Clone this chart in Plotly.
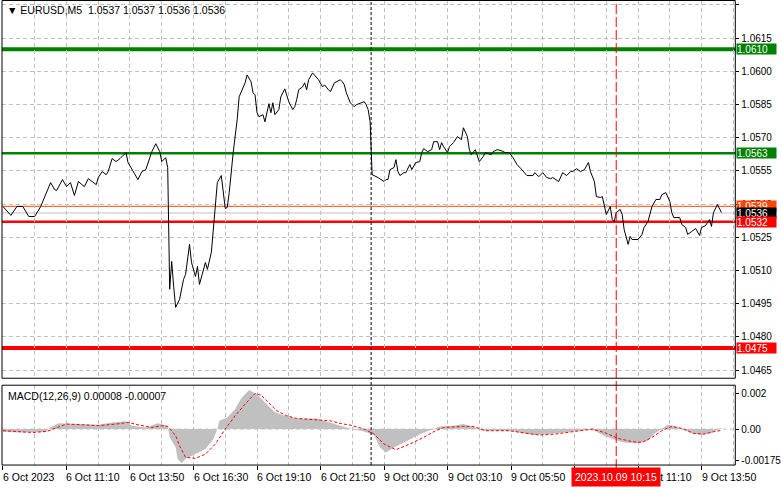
import plotly.graph_objects as go

# ---------------- data ----------------
price_bars = [0,4,7,10,13,16,19,21,22,24,26,27,30,32,34,36,38,41,43,47,48,50,52,53,55,57,59,62,63,65,68,70,72,75,77,79,80,82,83,
              84,85,86,87,89,91,92,94,95,97,98,99,102,103,105,107,108,110,111,112,113,114,116,118,119,120,122,123,125,126,127,128,129,
              131,132,134,135,136,137,139,140,142,143,144,146,147,148,149,151,152,153,154,156,157,159,161,162,164,165,167,168,170,171,
              172,173,175,177,178,182,183,184,185,
              186,187,189,192,193,194,195,197,198,199,200,202,203,205,206,208,210,211,212,214,216,217,219,220,221,222,224,225,227,229,
              231,232,234,235,236,238,240,242,243,246,247,249,251,253,255,257,259,261,264,267,268,270,272,274,276,277,280,282,284,286,
              287,289,291,293,295,296,298,299,301,302,303,304,306,307,308,309,311,312,313,315,316,317,320,322,323,325,327,328,329,331,
              332,334,336,337,338,341,342,344,345,347,349,351,352,354,356,357,358,360,362]
price_vals = [1.05389,1.05349,1.05389,1.05389,1.05344,1.05344,1.05389,1.05430,1.05448,1.05497,1.05466,1.05461,1.05511,1.05479,
              1.05497,1.05439,1.05502,1.05479,1.05515,1.05488,1.05520,1.05547,1.05533,1.05547,1.05606,1.05592,1.05606,1.05633,
              1.05588,1.05556,1.05511,1.05547,1.05556,1.05637,1.05673,1.05637,1.05592,1.05610,1.05565,
              1.05015,1.05141,1.05028,1.04933,1.04970,1.05060,1.05082,1.05218,1.05136,1.05073,1.05118,1.05037,1.05136,1.05105,
              1.05182,1.05376,1.05497,1.05529,1.05457,1.05380,1.05385,1.05452,1.05633,1.05781,1.05885,1.05908,1.05948,1.05984,
              1.05953,1.05903,1.05894,1.05813,1.05795,1.05804,1.05772,1.05854,1.05813,1.05858,1.05804,1.05827,1.05885,1.05921,
              1.05885,1.05863,1.05827,1.05840,1.05872,1.05917,1.05930,1.05948,1.05917,1.05962,1.05993,1.05984,1.05962,1.05930,
              1.05939,1.05917,1.05908,1.05948,1.05953,1.05962,1.05953,1.05939,1.05903,1.05858,1.05840,1.05849,1.05863,1.05849,
              1.05827,1.05772,
              1.05533,1.05529,1.05520,1.05502,1.05511,1.05511,1.05556,1.05565,1.05601,1.05547,1.05529,1.05542,1.05542,1.05579,
              1.05556,1.05588,1.05592,1.05633,1.05651,1.05637,1.05646,1.05682,1.05682,1.05646,1.05678,1.05660,1.05633,1.05660,
              1.05678,1.05705,1.05691,1.05745,1.05705,1.05646,1.05624,1.05646,1.05592,1.05615,1.05633,1.05624,1.05637,1.05646,
              1.05642,1.05633,1.05633,1.05610,1.05579,1.05560,1.05529,1.05529,1.05542,1.05524,1.05542,1.05520,1.05515,1.05520,
              1.05502,1.05542,1.05529,1.05547,1.05547,1.05560,1.05547,1.05556,1.05588,1.05547,1.05502,1.05434,1.05430,1.05434,
              1.05389,1.05353,1.05389,1.05330,1.05321,1.05362,1.05376,1.05353,1.05285,1.05218,1.05254,1.05240,1.05240,1.05263,
              1.05294,1.05321,1.05389,1.05407,1.05421,1.05421,1.05443,1.05452,1.05412,1.05362,1.05339,1.05339,1.05308,1.05294,
              1.05263,1.05276,1.05290,1.05258,1.05294,1.05303,1.05330,1.05299,1.05362,1.05398,1.05362]

macd_bars = [0,8,22,23,28,40,48,55,62,65,72,78,83,84,87,88,90,92,97,102,106,108,109,113,117,120,124,128,132,137,142,148,158,165,
             173,182,187,190,193,197,202,207,212,217,220,227,232,238,242,255,263,268,275,282,288,295,298,303,308,313,320,325,328,
             332,335,338,342,347,352,357,360,362]
macd_hist = [-0.00015,-0.00019,-0.00015,0.00004,0.00033,0.00028,0.00024,0.00037,0.00043,0.00019,0.00009,0.00033,0.00019,
             -0.00046,-0.00102,-0.00167,-0.00189,-0.00167,-0.00139,-0.00111,-0.00056,0.0,0.00046,0.00065,0.00111,0.00170,
             0.00217,0.00194,0.00148,0.00093,0.00074,0.00059,0.00059,0.00037,0.00009,-0.00013,-0.00033,-0.00102,-0.00130,
             -0.00102,-0.00074,-0.00046,-0.00019,0.0,0.00015,0.00019,0.00028,0.00009,-0.00009,-0.00009,-0.00024,-0.00033,
             -0.00028,-0.00019,-0.00013,-0.00004,-0.00009,-0.00037,-0.00059,-0.00074,-0.00080,-0.00065,-0.00028,0.00004,
             0.00024,0.00019,0.0,-0.00022,-0.00033,-0.00022,-0.00004,0.00008]

sig_bars = [0,15,22,27,32,40,48,57,63,68,75,80,83,87,89,92,97,102,107,112,117,122,127,130,133,138,143,148,157,165,170,175,182,
            187,192,198,205,212,218,222,232,237,243,255,263,270,278,288,297,303,310,317,322,327,332,337,342,348,353,358,362]
sig_vals = [-0.00009,-0.00019,-0.00013,0.00009,0.00028,0.00024,0.00019,0.00028,0.00037,0.00024,0.00009,0.00019,0.00015,
            -0.00037,-0.00093,-0.00157,-0.00163,-0.00139,-0.00083,0.0,0.00074,0.00139,0.00198,0.00189,0.00157,0.00102,
            0.00074,0.00059,0.00052,0.00046,0.00031,0.00022,0.0,-0.00028,-0.00083,-0.00115,-0.00083,-0.00046,-0.00009,
            0.00009,0.00015,0.00015,-0.00009,-0.00009,-0.00022,-0.00033,-0.00028,-0.00015,0.0,-0.00019,-0.00052,-0.00070,
            -0.00074,-0.00046,-0.00009,0.00015,0.00004,-0.00024,-0.00028,-0.00015,-0.00007]

price_ticks = [1.0630,1.0615,1.0600,1.0585,1.0570,1.0555,1.0540,1.0525,1.0510,1.0495,1.0480,1.0465]
macd_ticks = [0.002, 0.0, -0.00175]
macd_tick_text = ["0.002", "0.00", "-0.00175"]

time_bars = [0,32,64,96,128,160,192,224,256,288,320,352]
time_labels = ["6 Oct 2023","6 Oct 11:10","6 Oct 13:50","6 Oct 16:30","6 Oct 19:10","6 Oct 21:50",
               "9 Oct 00:30","9 Oct 03:10","9 Oct 05:50","9 Oct 08:30","9 Oct 11:10","9 Oct 13:50"]
grid_bars = list(range(16, 369, 16))

level_prices = [1.0610, 1.0563, 1.0532, 1.0475]
level_colors = ["#008000", "#008000", "#FF0000", "#FF0000"]
level_widths = [4, 2.5, 2.5, 4]

ask_price, bid_price = 1.0539, 1.0536
separator_bar = 186        # 9 Oct 00:00
cursor_bar = 309           # 2023.10.09 10:15
cursor_label = "2023.10.09 10:15"
title_text = "EURUSD,M5  1.0537 1.0537 1.0536 1.0536"
macd_text = "MACD(12,26,9) 0.00008 -0.00007"

# ---------------- layout geometry ----------------
W, H = 781, 489
def px_x(p): return p / W
def px_y(p): return 1 - p / H

FONT = "Liberation Sans"
FS = 10.5
FS_AX = 10
GRID = "#C0C0C0"
GDASH = "4px,3px"

fig = go.Figure()

fig.add_trace(go.Scatter(x=price_bars, y=price_vals, mode="lines",
                         line=dict(color="black", width=1), xaxis="x", yaxis="y",
                         hoverinfo="skip", showlegend=False))
fig.add_trace(go.Scatter(x=macd_bars, y=macd_hist, mode="lines", fill="tozeroy",
                         fillcolor="#C0C0C0", line=dict(color="#C0C0C0", width=0),
                         xaxis="x2", yaxis="y2", hoverinfo="skip", showlegend=False))
fig.add_trace(go.Scatter(x=sig_bars, y=sig_vals, mode="lines",
                         line=dict(color="#FF0000", width=1, dash="3px,2px"),
                         xaxis="x2", yaxis="y2", hoverinfo="skip", showlegend=False))

xdom = [px_x(2), px_x(741)]
xr = [-0.5, 369]

fig.update_layout(
    width=W, height=H, margin=dict(l=0, r=0, t=0, b=0, pad=0),
    paper_bgcolor="white", plot_bgcolor="white",
    font=dict(family=FONT, size=FS, color="black"),
    showlegend=False,
    xaxis=dict(domain=xdom, range=xr, anchor="y", showticklabels=False, ticks="",
               tickmode="array", tickvals=grid_bars, showgrid=True, gridcolor=GRID,
               griddash=GDASH, gridwidth=1, zeroline=False, showline=False, fixedrange=True),
    yaxis=dict(domain=[px_y(379), px_y(1)], range=[1.04613, 1.06318], anchor="x", side="right",
               tickmode="array", tickvals=price_ticks, ticktext=[f"{v:.4f}" for v in price_ticks],
               ticks="outside", ticklen=3, tickcolor="black", showgrid=True, gridcolor=GRID,
               griddash=GDASH, zeroline=False, showline=False,
               tickfont=dict(family=FONT, size=FS_AX, color="black")),
    xaxis2=dict(domain=xdom, range=xr, anchor="y2", showticklabels=False,
                tickmode="array", tickvals=time_bars, ticks="outside", ticklen=4, tickcolor="black",
                showgrid=True, gridcolor=GRID, griddash=GDASH, zeroline=False, showline=False,
                minor=dict(tickmode="array", tickvals=[b for b in grid_bars if b not in time_bars],
                           showgrid=True, gridcolor=GRID, griddash=GDASH, ticks="")),
    yaxis2=dict(domain=[px_y(466), px_y(386)], range=[-0.002, 0.00244], anchor="x2", side="right",
                tickmode="array", tickvals=macd_ticks, ticktext=macd_tick_text,
                ticks="outside", ticklen=3, tickcolor="black", showgrid=False, zeroline=False,
                showline=False, tickfont=dict(family=FONT, size=FS_AX, color="black")),
)

shapes = []
shapes.append(dict(type="line", xref="x2", yref="y2", x0=xr[0], x1=xr[1], y0=0, y1=0,
                   line=dict(color=GRID, width=1, dash=GDASH), layer="below"))
for p, c, w in zip(level_prices, level_colors, level_widths):
    shapes.append(dict(type="line", xref="paper", yref="y", x0=xdom[0], x1=xdom[1], y0=p, y1=p,
                       line=dict(color=c, width=w), layer="below"))
shapes.append(dict(type="line", xref="paper", yref="y", x0=xdom[0], x1=xdom[1], y0=ask_price, y1=ask_price,
                   line=dict(color="#FF4500", width=1), layer="below"))
shapes.append(dict(type="line", xref="paper", yref="y", x0=xdom[0], x1=xdom[1], y0=bid_price, y1=bid_price,
                   line=dict(color="#C0C0C0", width=1), layer="below"))
shapes.append(dict(type="line", xref="x", yref="paper", x0=separator_bar - 0.5, x1=separator_bar - 0.5,
                   y0=px_y(466), y1=px_y(0), line=dict(color="black", width=1, dash="3px,2px")))
shapes.append(dict(type="line", xref="x", yref="paper", x0=cursor_bar, x1=cursor_bar,
                   y0=px_y(470), y1=px_y(0), line=dict(color="#FF0000", width=1, dash="10px,3px")))
shapes.append(dict(type="rect", xref="paper", yref="paper", x0=xdom[0], x1=xdom[1], y0=px_y(379), y1=px_y(0.5),
                   line=dict(color="black", width=1), fillcolor="rgba(0,0,0,0)"))
shapes.append(dict(type="rect", xref="paper", yref="paper", x0=xdom[0], x1=xdom[1], y0=px_y(466), y1=px_y(386),
                   line=dict(color="black", width=1), fillcolor="rgba(0,0,0,0)"))
fig.update_layout(shapes=shapes)

ann = []
ann.append(dict(text="▼ " + title_text, xref="paper", yref="paper", x=px_x(5), y=px_y(10),
                xanchor="left", yanchor="middle", showarrow=False,
                font=dict(family=FONT, size=FS, color="black")))
ann.append(dict(text=macd_text, xref="paper", yref="paper", x=px_x(6), y=px_y(397),
                xanchor="left", yanchor="middle", showarrow=False,
                font=dict(family=FONT, size=FS, color="black")))
for b, t in zip(time_bars, time_labels):
    ann.append(dict(text=t, xref="x2", yref="paper", x=b, y=px_y(478), xanchor="left", yanchor="middle",
                    xshift=-2, showarrow=False, font=dict(family=FONT, size=FS, color="black")))
ann.append(dict(text=cursor_label, xref="x2", yref="paper", x=cursor_bar, y=px_y(478), xanchor="center",
                yanchor="middle", showarrow=False, bgcolor="#FF0000", borderpad=3,
                font=dict(family=FONT, size=FS, color="white")))
box_prices = [level_prices[0], level_prices[1], ask_price, bid_price, level_prices[2], level_prices[3]]
box_colors = ["#008000", "#008000", "#FF4500", "#000000", "#FF0000", "#FF0000"]
for p, c in zip(box_prices, box_colors):
    ann.append(dict(text=f"{p:.4f}", xref="paper", yref="y", x=px_x(742), y=p, xanchor="left",
                    yanchor="middle", showarrow=False, bgcolor=c, width=39, height=10, align="left",
                    borderpad=0, font=dict(family=FONT, size=FS_AX, color="white")))
fig.update_layout(annotations=ann)

fig.write_html("out.html", config={"displayModeBar": False},
               post_script="document.documentElement.style.overflow='hidden';document.body.style.overflow='hidden';"
                           "document.body.style.margin='0';document.body.style.padding='0';")
